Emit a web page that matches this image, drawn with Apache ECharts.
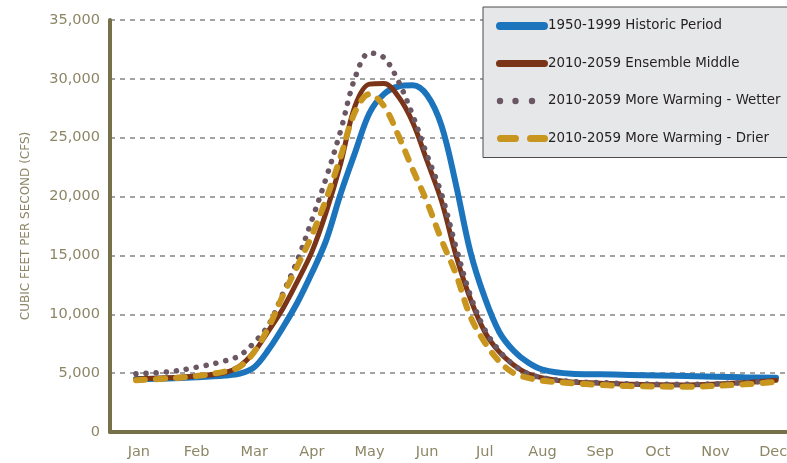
<!DOCTYPE html>
<html>
<head>
<meta charset="utf-8">
<script src="https://cdn.jsdelivr.net/npm/echarts@6/dist/echarts.min.js"></script>
<style>html,body{margin:0;padding:0;background:#fff}#c{width:787px;height:463px}</style>
</head>
<body>
<div id="c"></div>
<script>
const months = ['Jan','Feb','Mar','Apr','May','Jun','Jul','Aug','Sep','Oct','Nov','Dec'];
const yTicks = [0,5000,10000,15000,20000,25000,30000,35000];
// positions in months (Jan centre = 0.5)
const xPos = [0.45,1.0,1.5,2.0,2.25,2.5,2.75,3.0,3.25,3.5,3.75,4.0,4.25,4.5,4.75,5.0,5.25,5.5,5.75,6.0,6.25,6.5,6.75,7.0,7.25,7.5,8.0,8.5,9.0,10.0,11.0,11.55];
const historic = [4500,4550,4650,4800,4950,5500,7000,8900,11000,13500,16300,20250,23750,27100,28700,29350,29450,28600,26000,21000,15300,11400,8500,6900,5900,5300,4950,4900,4850,4750,4650,4600];
const ensembleMiddle = [4500,4600,4750,5050,5600,6800,8600,10500,12800,15300,18700,22800,27700,29550,29600,28500,26300,23000,19600,15000,11300,8500,6800,5700,4950,4600,4250,4150,4050,4000,4200,4400];
const warmerWetter = [4950,5100,5500,6050,6500,7600,9100,11800,14600,18000,21600,25600,30100,32200,31800,29800,26900,23500,20200,15700,11600,8700,6900,5700,4950,4600,4300,4200,4100,4050,4200,4400];
const warmerDrier = [4400,4550,4750,5150,5550,6800,8900,11600,14100,16700,19800,23400,27200,28700,27700,25200,22300,19500,16300,13400,9800,7600,6000,5000,4600,4350,4150,4000,3900,3850,4050,4250];
const seriesNames = ['1950-1999 Historic Period','2010-2059 Ensemble Middle','2010-2059 More Warming - Wetter','2010-2059 More Warming - Drier'];
const colors = ['#1c75bc','#7a3418','#6b5763','#c8951f'];

const pair = v => v.map((y,i)=>[xPos[i],y]);
const olive = '#77714a';
const labelCol = '#8c8666';
const font = '"DejaVu Sans", sans-serif';

// legend icon shapes (bbox 52x14)
const bb = 'M0,0 L0.01,0 Z M52,14 L51.99,14 Z ';
const rr = (x0,x1,y0,y1) => { const r=(y1-y0)/2; return `M${x0+r},${y0} L${x1-r},${y0} A${r},${r} 0 0 1 ${x1-r},${y1} L${x0+r},${y1} A${r},${r} 0 0 1 ${x0+r},${y0} Z `; };
const circ = (cx,cy,r) => `M${cx-r},${cy} A${r},${r} 0 1 0 ${cx+r},${cy} A${r},${r} 0 1 0 ${cx-r},${cy} Z `;
const icons = [
  'path://' + bb + rr(0,52,3,11),
  'path://' + bb + rr(0,52,3.5,10.5),
  'path://' + bb + circ(4,7,3.2) + circ(19.5,7,3.2) + circ(36,7,3.2),
  'path://' + bb + rr(1,23,3.5,10.5) + rr(31,52,3.5,10.5)
];

const chart = echarts.init(document.getElementById('c'));
chart.setOption({
  animation:false,
  textStyle:{fontFamily:font},
  grid:{left:110, top:20, width:692, height:412, containLabel:false, outerBoundsMode:'none'},
  legend:{
    orient:'vertical', left:483, top:7,
    padding:[12,14,12,13], itemGap:23.5, itemWidth:52, itemHeight:14,
    symbolKeepAspect:false,
    backgroundColor:'#e6e7e8', borderColor:'#4d4d4d', borderWidth:1,
    textStyle:{color:'#231f20', fontSize:13.4, fontFamily:font, padding:[0,0,0,-5]},
    data:seriesNames.map((n,i)=>({name:n, icon:icons[i], itemStyle:{color:colors[i], borderWidth:0}}))
  },
  xAxis:[{
    type:'category', data:months, boundaryGap:true,
    axisLine:{lineStyle:{color:olive, width:4}},
    axisTick:{show:false},
    axisLabel:{color:labelCol, fontSize:14.5, margin:13, fontFamily:font},
    splitLine:{show:false}
  },{
    type:'value', min:0, max:12, show:false
  }],
  yAxis:{
    type:'value', min:yTicks[0], max:yTicks[yTicks.length-1], interval:5000,
    name:'CUBIC FEET PER SECOND (CFS)', nameLocation:'middle', nameGap:78,
    nameTextStyle:{color:labelCol, fontSize:12, fontFamily:font},
    axisLine:{show:true, lineStyle:{color:olive, width:4}},
    axisTick:{show:false},
    axisLabel:{color:labelCol, fontSize:14.5, margin:10, fontFamily:font,
      formatter:v=>v.toLocaleString('en-US')},
    splitLine:{show:true, lineStyle:{color:'#a3a3a3', width:2, type:[5,5]}}
  },
  series:[
    {name:seriesNames[0], type:'line', xAxisIndex:1, data:pair(historic), smooth:0.35, showSymbol:false, symbol:'none',
      itemStyle:{color:colors[0]}, lineStyle:{color:colors[0], width:6, cap:'round'}},
    {name:seriesNames[1], type:'line', xAxisIndex:1, data:pair(ensembleMiddle), smooth:0.35, showSymbol:false, symbol:'none',
      itemStyle:{color:colors[1]}, lineStyle:{color:colors[1], width:5, cap:'round'}},
    {name:seriesNames[2], type:'line', xAxisIndex:1, data:pair(warmerWetter), smooth:0.35, showSymbol:false, symbol:'none',
      itemStyle:{color:colors[2]}, lineStyle:{color:colors[2], width:5.5, type:[0.1,10], cap:'round'}},
    {name:seriesNames[3], type:'line', xAxisIndex:1, data:pair(warmerDrier), smooth:0.35, showSymbol:false, symbol:'none',
      itemStyle:{color:colors[3]}, lineStyle:{color:colors[3], width:6, type:[9,11], cap:'round'}}
  ]
});
</script>
</body>
</html>
